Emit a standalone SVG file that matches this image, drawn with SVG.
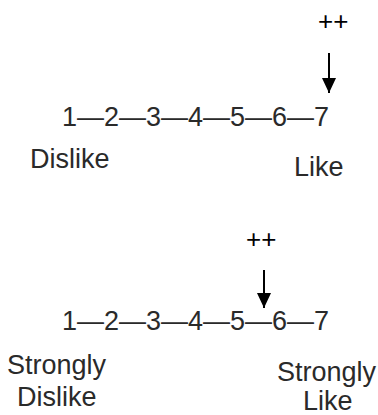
<svg xmlns="http://www.w3.org/2000/svg" width="378" height="415" viewBox="0 0 378 415">
  <style>
    .t { font-family: "Liberation Sans", Arial, sans-serif; font-size: 27px; fill: #2a2a2a; }
    .p { font-family: "Liberation Sans", Arial, sans-serif; font-size: 26px; fill: #000; }
    .a { stroke: #000; stroke-width: 2; fill: none; }
  </style>
  <defs>
    <marker id="head" viewBox="0 0 15 14" refX="15" refY="7" markerWidth="15" markerHeight="14" markerUnits="userSpaceOnUse" orient="auto">
      <path d="M0,0 L15,7 L0,14 z" fill="#000"/>
    </marker>
  </defs>
  <rect width="378" height="415" fill="#fff"/>

  <g id="scale1">
    <g id="plus1"><text class="p" x="318" y="30">++</text></g>
    <g id="numbers1"><text class="t" x="62" y="126">1—2—3—4—5—6—7</text></g>
    <g id="dislike1"><text class="t" x="30" y="168">Dislike</text></g>
    <g id="like1"><text class="t" x="294" y="176">Like</text></g>
  </g>

  <g id="scale2">
    <g id="plus2"><text class="p" x="246" y="248">++</text></g>
    <g id="numbers2"><text class="t" x="62" y="330">1—2—3—4—5—6—7</text></g>
    <g id="dislike2">
      <text class="t" x="7" y="374">Strongly</text>
      <text class="t" x="17" y="406">Dislike</text>
    </g>
    <g id="like2">
      <text class="t" x="277" y="381">Strongly</text>
      <text class="t" x="303" y="410">Like</text>
    </g>
  </g>

  <g id="connectors">
    <line class="a" x1="329" y1="53" x2="329" y2="93" marker-end="url(#head)"/>
    <line class="a" x1="264" y1="270" x2="264" y2="308" marker-end="url(#head)"/>
  </g>
</svg>
